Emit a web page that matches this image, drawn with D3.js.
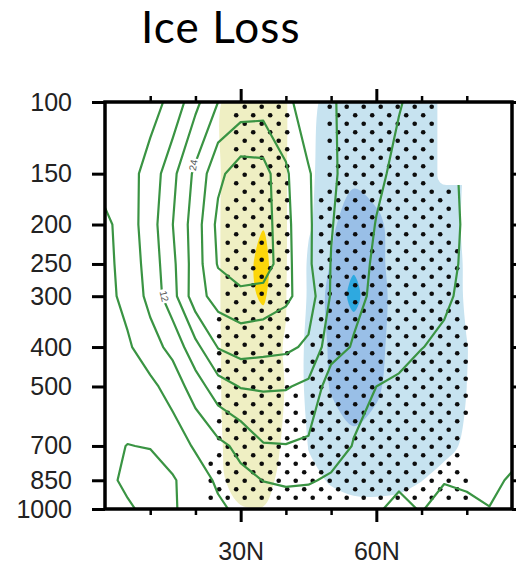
<!DOCTYPE html>
<html>
<head>
<meta charset="utf-8">
<script src="https://cdn.jsdelivr.net/npm/d3@7"></script>
<style>
  body { margin: 0; background: #fff; }
  svg { display: block; }
</style>
</head>
<body>
<div id="chart"></div>
<script>
/*global d3*/

// grid of the cross section
const latitudes = [0, 5, 10, 15, 20, 25, 30, 35, 40, 45, 50, 55, 60, 65, 70, 75, 80, 85, 90];
const pressureLevels = [100, 150, 200, 250, 300, 400, 500, 700, 850, 1000];

// zonal wind (m/s), one row per pressure level, green contours
const windU = [
  [2, 3, 4, 7.5, 16.4, 24, 26.5, 27, 26, 19.75, 18.6, 16, 14, 12.3, 10.5, 9.5, 9, 8.5, 8],
  [3, 4, 8, 16.5, 25.4, 34.6, 39, 38.5, 30.8, 24.6, 18.8, 16, 13, 10.8, 8.5, 6.8, 5.5, 5, 4.5],
  [-1.5, 3.1, 9.2, 18, 27.1, 37.5, 41, 39, 31.5, 25, 18.3, 15, 11.8, 10, 8.5, 7, 5.6, 4.5, 4],
  [-1.8, 2.5, 8.4, 16.7, 27, 36.5, 40.5, 39.5, 31.8, 25, 17.8, 14.5, 11, 9.5, 8.3, 7, 5.4, 4.5, 4],
  [-2, 1.9, 7.7, 15.9, 27.5, 32.5, 34, 33.5, 31.2, 27, 17.5, 13.5, 10.9, 9.3, 8, 6.7, 5, 4, 3.5],
  [-2.5, -0.9, 3.6, 7.8, 16.2, 24.3, 26.5, 25.8, 25.2, 23, 14.5, 11.5, 9.6, 8, 6.1, 5.2, 4.2, 3.5, 3],
  [-4, -3, -1.5, 2.6, 9, 15.5, 18.3, 18.6, 18.4, 16.8, 8.8, 7.3, 6, 5, 4.3, 3.8, 3.3, 2.8, 2.5],
  [-5, -6.1, -5.8, -3.5, 0.8, 4.5, 7.5, 11.6, 11.8, 11, 8, 5.8, 4.5, 3, 2.2, 2, 1.8, 1.6, 1.5],
  [-5, -6.8, -8, -6.5, -3.3, 1.1, 4.5, 6.1, 6.6, 6.4, 5.4, 3.8, 2, 0.7, 1.0, 0.3, 0.8, 1, -0.5],
  [-3, -5.5, -7, -6.5, -4, -1.2, 1.5, 3.5, 4, 3.8, 3, 2, 0.5, -1.1, 0.3, -2, -1.2, -0.1, -1.5]
];
const windLevels = [-6, 0, 6, 12, 18, 24, 30, 36];

// response to ice loss (shaded)
const response = [
  [0, 0.05, 0.1, 0.15, 0.3, 0.93, 1.4, 1.6, 1.1, -0.6, -1.5, -1.5, -1.45, -1.4, -1.4, -1.3, -0.9, -0.7, -0.5],
  [0, 0.05, 0.1, 0.15, 0.3, 0.93, 1.5, 1.8, 1.1, -0.8, -1.5, -1.75, -1.6, -1.5, -1.45, -1.4, -0.9, -0.7, -0.5],
  [0, 0.05, 0.1, 0.15, 0.3, 0.93, 1.6, 1.95, 1.1, -0.85, -1.8, -2.6, -2.2, -1.6, -1.5, -1.4, -0.85, -0.5, -0.3],
  [0, 0.05, 0.1, 0.15, 0.3, 0.93, 1.6, 2.3, 1.1, -1.2, -2.05, -2.85, -2.2, -1.7, -1.55, -1.45, -0.9, -0.5, -0.3],
  [0, 0.05, 0.1, 0.15, 0.3, 0.93, 1.6, 2.15, 1.05, -1.2, -2.3, -3.3, -2.3, -1.7, -1.6, -1.5, -0.9, -0.5, -0.3],
  [0, 0.05, 0.1, 0.15, 0.3, 0.93, 1.5, 1.3, 0.95, -1.5, -2.1, -2.33, -2.2, -1.7, -1.6, -1.5, -1.02, -0.6, -0.3],
  [0, 0.05, 0.1, 0.15, 0.3, 0.93, 1.45, 1.7, 0.95, -1.5, -2.05, -2.3, -2.1, -1.7, -1.6, -1.45, -1.0, -0.5, -0.3],
  [0, 0.05, 0.1, 0.15, 0.3, 0.88, 1.45, 1.6, 0.8, -1.05, -1.7, -1.85, -1.75, -1.6, -1.45, -1.25, -0.85, -0.4, -0.2],
  [0, 0.05, 0.1, 0.15, 0.3, 0.85, 1.3, 1.5, 0.5, -0.7, -1.1, -1.35, -1.4, -1.3, -1.02, -0.7, -0.4, -0.2, -0.1],
  [0, 0.05, 0.1, 0.15, 0.3, 0.7, 0.95, 0.95, 0.4, -0.4, -0.6, -0.7, -0.7, -0.65, -0.5, -0.3, -0.2, -0.1, 0]
];
const shadeLevels = [1, 2, -1, -2, -3];
const shadeColors = ["#efefc3", "#fcd60a", "#c7e3f0", "#99bfe7", "#2ea9e0"];

// significance (stippled where >= 0.5)
const signif = [
  [0, 0, 0, 0, 0, 0.1, 1, 1, 0.6, 0.1, 0.6, 1, 1, 1, 1, 1, 0, 0, 0],
  [0, 0, 0, 0, 0, 0.1, 1, 1, 0.6, 0.1, 0.65, 1, 1, 1, 1, 1, 0, 0, 0],
  [0, 0, 0, 0, 0, 0.15, 1, 1, 0.6, 0.25, 1, 1, 1, 1, 1, 1, 0, 0, 0],
  [0, 0, 0, 0, 0, 0.3, 1, 1, 0.6, 0.3, 1, 1, 1, 1, 1, 1, 0.2, 0, 0],
  [0, 0, 0, 0, 0, 0.45, 1, 1, 0.6, 0.35, 1, 1, 1, 1, 1, 1, 0.4, 0, 0],
  [0, 0, 0, 0, 0, 0.6, 1, 1, 0.52, 0.4, 1, 1, 1, 1, 1, 1, 0.55, 0, 0],
  [0, 0, 0, 0, 0, 0.6, 1, 1, 0.52, 0.45, 1, 1, 1, 1, 1, 1, 0.55, 0, 0],
  [0, 0, 0, 0, 0, 0.6, 1, 1, 0.6, 0.52, 1, 1, 1, 1, 1, 1, 0.4, 0, 0],
  [0, 0, 0, 0, 0, 1, 1, 1, 1, 1, 1, 1, 1, 1, 1, 1, 0.5, 0, 0],
  [0, 0, 0, 0, 0, 1, 1, 1, 1, 1, 1, 1, 1, 1, 1, 1, 0.65, 0, 0]
];

// no data poleward of this latitude above this level
const missingLat = 73.5;
const missingP = 160;

const lineLabels = [
  {value: 24, lat: 19.5, p: 143, angle: -80},
  {value: 12, lat: 13.1, p: 300, angle: 76}
];

const xMajor = [30, 60];
const xMinor = [10, 20, 40, 50, 70, 80];

//Initialize the dimensions
const width = 516, height = 568;
const plot = {left: 105, right: 512, top: 102, bottom: 509};

let svg = d3.select("#chart")
  .append("svg")
  .attr("width", width)
  .attr("height", height);

let x = d3.scaleLinear().domain([0, 90]).range([plot.left, plot.right]);
let y = d3.scaleLog().domain([100, 1000]).range([plot.top, plot.bottom]);

// fractional grid index -> lat / pressure (log-linear between levels)
let gridLat = function (i) {
  let k = Math.max(0, Math.min(latitudes.length - 2, Math.floor(i)));
  return latitudes[k] + (i - k) * (latitudes[k + 1] - latitudes[k]);
};
let gridP = function (j) {
  let k = Math.max(0, Math.min(pressureLevels.length - 2, Math.floor(j)));
  let a = Math.log(pressureLevels[k]), b = Math.log(pressureLevels[k + 1]);
  return Math.exp(a + (j - k) * (b - a));
};
let toPx = function (pt) {
  return [x(gridLat(pt[0] - 0.5)), y(gridP(pt[1] - 0.5))];
};

let contourGen = d3.contours().size([latitudes.length, pressureLevels.length]);

let ringsAt = function (rows, t) {
  let sign = t < 0 ? -1 : 1;
  let vals = rows.flat().map(function (v) { return v * sign; });
  return contourGen.contour(vals, t * sign).coordinates.flat()
    .map(function (r) { return r.map(toPx); });
};

// clip: plot box without the missing corner
let xm = x(missingLat), ym = y(missingP), rc = 9;
let defs = svg.append("defs");
defs.append("clipPath").attr("id", "plotClip")
  .append("path")
  .attr("d", "M" + plot.left + "," + plot.top +
    "H" + xm + "V" + (ym - rc) +
    "A" + rc + "," + rc + " 0 0 0 " + (xm + rc) + "," + ym +
    "H" + plot.right + "V" + plot.bottom + "H" + plot.left + "Z");

let body = svg.append("g").attr("clip-path", "url(#plotClip)");

// shaded response
let smooth = d3.line().curve(d3.curveCatmullRomClosed.alpha(0.5));
shadeLevels.forEach(function (t, i) {
  let rings = ringsAt(response, t);
  body.append("path")
    .attr("d", rings.map(function (r) { return smooth(r.slice(0, -1)); }).join(""))
    .attr("fill", shadeColors[i])
    .attr("fill-rule", "evenodd");
});

// stippling
let sigRings = ringsAt(signif, 0.5);
let dots = [];
for (let j = -1; j < 50; j++) {
  let py = 106.7 + j * 8.5;
  let off = (j % 2 !== 0) ? 8.5 : 0;
  for (let n = -20; n < 20; n++) {
    let px = 346.7 + off + n * 17;
    if (px < plot.left + 3 || px > plot.right - 3) continue;
    if (py < plot.top + 3 || py > plot.bottom - 5) continue;
    if (px > xm - 2 && py < ym + 2) continue;
    let inside = 0;
    sigRings.forEach(function (r) { if (d3.polygonContains(r, [px, py])) inside++; });
    if (inside % 2 === 1) dots.push([px, py]);
  }
}
body.append("g")
  .selectAll("circle")
  .data(dots)
  .enter()
  .append("circle")
  .attr("cx", function (d) { return d[0]; })
  .attr("cy", function (d) { return d[1]; })
  .attr("r", 2.3)
  .attr("fill", "#0d0d0d");

// wind contours
let straight = d3.line();
windLevels.forEach(function (t) {
  let vals = windU.flat();
  let rings = contourGen.contour(vals, t).coordinates.flat()
    .map(function (r) { return r.map(toPx); });
  body.append("path")
    .attr("d", rings.map(function (r) { return straight(r) + "Z"; }).join(""))
    .attr("fill", "none")
    .attr("stroke", "#3a9443")
    .attr("stroke-width", 2.2)
    .attr("stroke-linejoin", "round");
});

// contour labels
let lab = body.selectAll(".clab")
  .data(lineLabels)
  .enter()
  .append("g")
  .attr("transform", function (d) {
    return "translate(" + x(d.lat) + "," + y(d.p) + ") rotate(" + d.angle + ")";
  });
lab.append("rect")
  .attr("x", -7).attr("y", -5)
  .attr("width", 14).attr("height", 10)
  .attr("fill", "#fff");
lab.append("text")
  .attr("text-anchor", "middle")
  .attr("dy", "0.35em")
  .style("font-family", "'Liberation Sans', Arial, sans-serif")
  .style("font-size", "10px")
  .attr("fill", "#555")
  .text(function (d) { return d.value; });

// frame and axes
let tickStyle = function (g, w) {
  g.select(".domain").remove();
  g.selectAll(".tick line").attr("stroke", "#000").attr("stroke-width", w);
  g.selectAll("text")
    .style("font-family", "'Liberation Sans', Arial, sans-serif")
    .style("font-size", "25px")
    .attr("fill", "#222");
};

svg.append("g")
  .attr("transform", "translate(" + plot.left + ",0)")
  .call(d3.axisLeft(y).tickValues(pressureLevels).tickFormat(d3.format("d")).tickSize(13).tickPadding(20))
  .call(tickStyle, 3);

svg.append("g")
  .attr("transform", "translate(" + plot.right + ",0)")
  .call(d3.axisRight(y).tickValues(pressureLevels).tickFormat("").tickSize(13))
  .call(tickStyle, 3);

svg.append("g")
  .attr("transform", "translate(0," + plot.bottom + ")")
  .call(d3.axisBottom(x).tickValues(xMajor).tickFormat(function (d) { return d + "N"; }).tickSize(13).tickPadding(20))
  .call(tickStyle, 3);

svg.append("g")
  .attr("transform", "translate(0," + plot.bottom + ")")
  .call(d3.axisBottom(x).tickValues(xMinor).tickFormat("").tickSize(6))
  .call(tickStyle, 2.5);

svg.append("g")
  .attr("transform", "translate(0," + plot.top + ")")
  .call(d3.axisTop(x).tickValues(xMajor).tickFormat("").tickSize(13))
  .call(tickStyle, 3);

svg.append("g")
  .attr("transform", "translate(0," + plot.top + ")")
  .call(d3.axisTop(x).tickValues(xMinor).tickFormat("").tickSize(6))
  .call(tickStyle, 2.5);

svg.append("rect")
  .attr("x", plot.left)
  .attr("y", plot.top)
  .attr("width", plot.right - plot.left)
  .attr("height", plot.bottom - plot.top)
  .attr("fill", "none")
  .attr("stroke", "#000")
  .attr("stroke-width", 3.5);

// title
svg.append("text")
  .attr("x", 141)
  .attr("y", 43)
  .style("font-family", "Lato, 'Open Sans', sans-serif")
  .style("font-size", "44px")
  .style("letter-spacing", "1.1px")
  .attr("fill", "#000")
  .text("Ice Loss");
</script>
</body>
</html>
